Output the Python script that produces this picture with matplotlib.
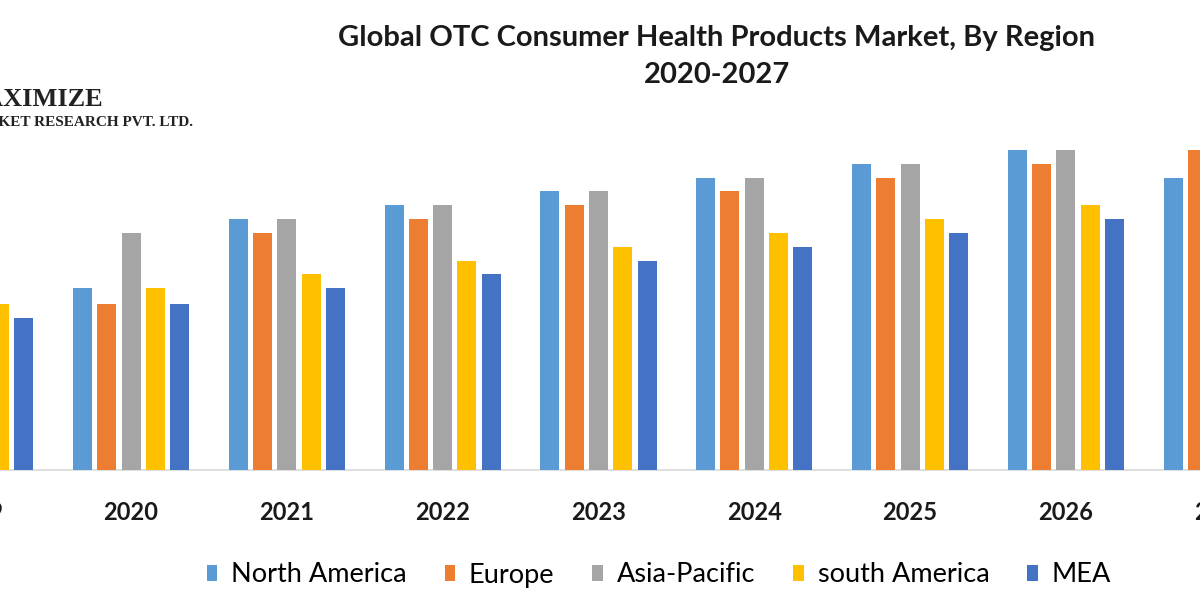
import numpy as np
import matplotlib
matplotlib.use("Agg")
import matplotlib.pyplot as plt
import matplotlib.transforms as mtransforms

plt.rcParams["font.family"] = ["Lato", "DejaVu Sans"]

# data (arbitrary units); 2019 and 2027 are cut by the frame
years = ["2019", "2020", "2021", "2022", "2023", "2024", "2025", "2026", "2027"]
regions = ["North America", "Europe", "Asia-Pacific", "south America", "MEA"]
north_america = [166, 182, 251, 265, 279, 292, 306, 320, 292]
europe = [152, 166, 237, 251, 265, 279, 292, 306, 320]
asia_pacific = [182, 237, 251, 265, 279, 292, 306, 320, 334]
south_america = [166, 182, 196, 209, 223, 237, 251, 265, 279]
mea = [152, 166, 182, 196, 209, 223, 237, 251, 265]

series = [north_america, europe, asia_pacific, south_america, mea]
colors = ["#5B9BD5", "#ED7D31", "#A5A5A5", "#FFC000", "#4472C4"]

fig = plt.figure(figsize=(12, 6), dpi=100)
ax = fig.add_axes([0, 130 / 600, 1, 340 / 600])

x = np.arange(len(years))
step = 0.156
width = 0.122
for i in range(len(series)):
    ax.bar(x + (i - 2) * step, series[i], width=width, color=colors[i],
           label=regions[i], zorder=3)

ax.set_xticks(x)
ax.set_xticklabels(years, fontsize=17, fontweight="bold", color="#1a1a1a")
ax.set_xlim(0.159, 7.861)
ax.set_ylim(0, 340)
ax.tick_params(axis="x", length=0, pad=22)
ax.set_yticks([])
for s in ["top", "right", "left"]:
    ax.spines[s].set_visible(False)
ax.spines["bottom"].set_color("#D9D9D9")
ax.spines["bottom"].set_linewidth(1.2)

# year labels of the groups cut by the frame (ticks outside the view are not drawn)
trans = mtransforms.blended_transform_factory(ax.transData, fig.transFigure)
for k in [0, len(years) - 1]:
    ax.text(x[k], 1 - 513 / 600, years[k], transform=trans, ha="center", va="center",
            fontsize=17, fontweight="bold", color="#1a1a1a", clip_on=False)

fig.text(0.5975, 1 - 38 / 600, "Global OTC Consumer Health Products Market, By Region",
         ha="center", va="center", fontsize=21, fontweight="bold", color="#1a1a1a")
fig.text(0.5975, 1 - 75 / 600, "2020-2027",
         ha="center", va="center", fontsize=21, fontweight="bold", color="#1a1a1a")

# logo, cut at the left edge
fig.text(-0.034, 1 - 99 / 600, "MAXIMIZE", ha="left", va="center",
         fontsize=19, family="Liberation Serif", fontweight="bold", color="#222222")
fig.text(-0.032, 1 - 122 / 600, "MARKET RESEARCH PVT. LTD.", ha="left", va="center",
         fontsize=11, family="Liberation Serif", fontweight="bold", color="#222222")

fig.legend(loc="center", bbox_to_anchor=(0.549, 1 - 575 / 600), ncol=5,
           frameon=False, fontsize=19.5, handlelength=0.4, handleheight=0.5,
           handletextpad=0.5, columnspacing=1.4)

fig.savefig("out.png", dpi=100)
